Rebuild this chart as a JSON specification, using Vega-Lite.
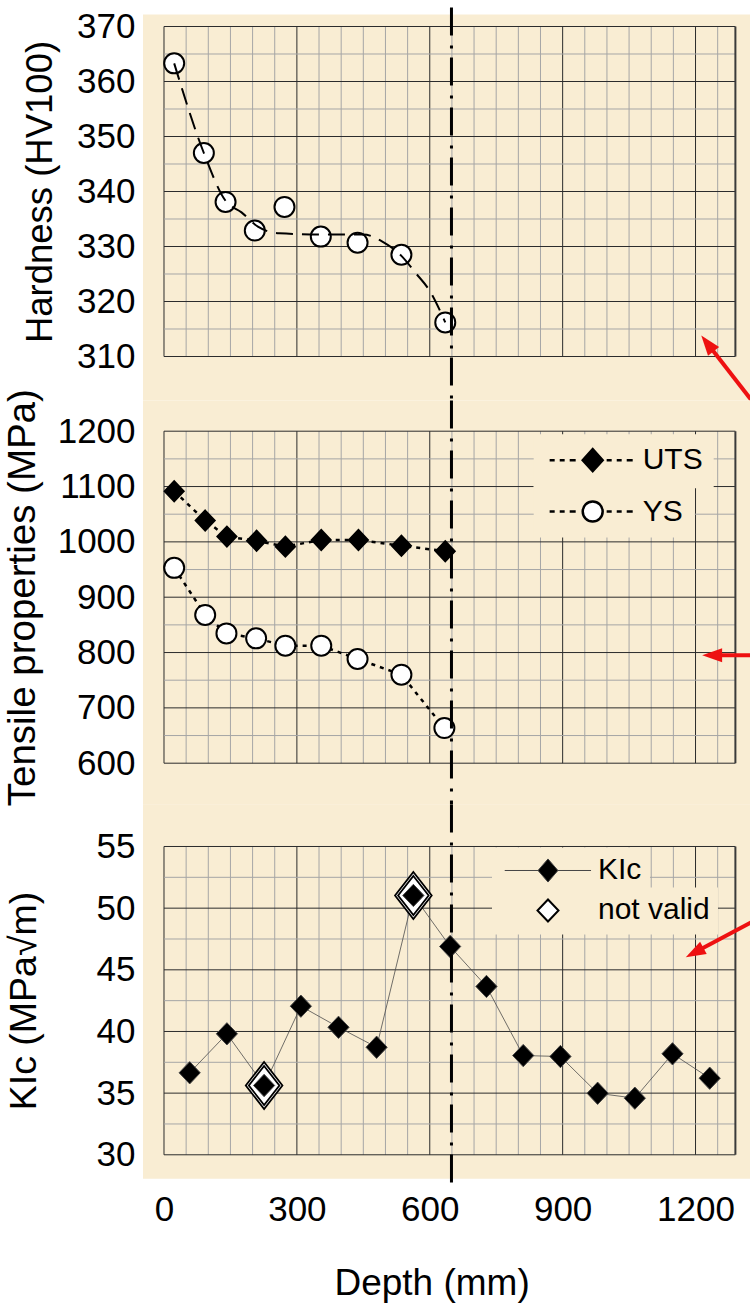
{
  "$schema": "https://vega.github.io/schema/vega-lite/v6.json",
  "background": "white",
  "autosize": {"type": "pad"},
  "padding": {"left": 3, "top": 5.5, "right": 0, "bottom": 0},
  "bounds": "flush",
  "spacing": 74.7,
  "resolve": {"scale": {"fill": "independent", "shape": "independent", "stroke": "independent"}, "legend": {"fill": "independent", "shape": "independent", "stroke": "independent"}},
  "config": {
    "font": "Liberation Sans",
    "view": {"stroke": null},
    "axis": {
      "labelFont": "Liberation Sans", "titleFont": "Liberation Sans",
      "labelColor": "black", "titleColor": "black", "titleFontWeight": "normal",
      "labelFontSize": 35, "titleFontSize": 36,
      "domainColor": "black", "domainWidth": 1.5, "tickColor": "black", "tickWidth": 1,
      "grid": false, "labelFlush": false, "labelOverlap": false, "zindex": 1
    },
    "legend": {"labelFont": "Liberation Sans", "labelFontSize": 30, "labelColor": "black"}
  },
  "datasets": {
    "one": [{}],
    "xg": [{"v":0},{"v":50},{"v":100},{"v":150},{"v":200},{"v":250},{"v":300},{"v":350},{"v":400},{"v":450},{"v":500},{"v":550},{"v":600},{"v":650},{"v":700},{"v":750},{"v":800},{"v":850},{"v":900},{"v":950},{"v":1000},{"v":1050},{"v":1100},{"v":1150},{"v":1200},{"v":1250}],
    "g1": [{"v":310},{"v":315},{"v":320},{"v":325},{"v":330},{"v":335},{"v":340},{"v":345},{"v":350},{"v":355},{"v":360},{"v":365},{"v":370}],
    "g2": [{"v":600},{"v":650},{"v":700},{"v":750},{"v":800},{"v":850},{"v":900},{"v":950},{"v":1000},{"v":1050},{"v":1100},{"v":1150},{"v":1200}],
    "g3": [{"v":30},{"v":32.5},{"v":35},{"v":37.5},{"v":40},{"v":42.5},{"v":45},{"v":47.5},{"v":50},{"v":52.5},{"v":55}],
    "hv": [
      {"depth":23,"hv":363.3},{"depth":90,"hv":347.0},{"depth":139,"hv":338.1},{"depth":205,"hv":332.9},
      {"depth":272,"hv":337.2},{"depth":354,"hv":331.8},{"depth":437,"hv":330.7},{"depth":536,"hv":328.5},{"depth":635,"hv":316.2}
    ],
    "trend": [
      {"depth":23,"hv":363.3},{"depth":90,"hv":347.0},{"depth":139,"hv":338.3},{"depth":175,"hv":336.2},
      {"depth":212,"hv":333.6},{"depth":260,"hv":332.4},{"depth":350,"hv":332.2},{"depth":450,"hv":332.2},
      {"depth":493,"hv":330.9},{"depth":536,"hv":328.3},{"depth":568,"hv":325.2},{"depth":601,"hv":321.8},{"depth":635,"hv":316.2}
    ],
    "ts": [
      {"depth":23,"value":1091.5,"series":"UTS"},{"depth":93,"value":1038.5,"series":"UTS"},{"depth":142,"value":1009.5,"series":"UTS"},
      {"depth":209,"value":1002,"series":"UTS"},{"depth":274,"value":991.4,"series":"UTS"},{"depth":355,"value":1003.5,"series":"UTS"},
      {"depth":439,"value":1003.5,"series":"UTS"},{"depth":536,"value":993,"series":"UTS"},{"depth":635,"value":983,"series":"UTS"},
      {"depth":23,"value":953,"series":"YS"},{"depth":93,"value":868,"series":"YS"},{"depth":141,"value":834.6,"series":"YS"},
      {"depth":208,"value":825.6,"series":"YS"},{"depth":274,"value":812.3,"series":"YS"},{"depth":355,"value":812.3,"series":"YS"},
      {"depth":437,"value":788.3,"series":"YS"},{"depth":536,"value":760,"series":"YS"},{"depth":633,"value":663.5,"series":"YS"}
    ],
    "kic": [
      {"depth":58,"kic":36.65,"note":"valid"},{"depth":142,"kic":39.81,"note":"valid"},{"depth":226,"kic":35.62,"note":"not valid"},
      {"depth":309,"kic":42.05,"note":"valid"},{"depth":394,"kic":40.34,"note":"valid"},{"depth":480,"kic":38.72,"note":"valid"},
      {"depth":563,"kic":51.03,"note":"not valid"},{"depth":646,"kic":46.89,"note":"valid"},{"depth":728,"kic":43.65,"note":"valid"},
      {"depth":811,"kic":38.05,"note":"valid"},{"depth":895,"kic":37.97,"note":"valid"},{"depth":979,"kic":34.99,"note":"valid"},
      {"depth":1063,"kic":34.59,"note":"valid"},{"depth":1148,"kic":38.19,"note":"valid"},{"depth":1232,"kic":36.21,"note":"valid"}
    ]
  },
  "vconcat": [
    {
      "width": 571.4, "height": 330,
      "layer": [
        {"data": {"name": "one"}, "mark": {"type": "rect", "clip": false, "color": "#F9EDD3"},
         "encoding": {
           "x": {"datum": -47.4, "type": "quantitative", "scale": {"domain": [0,1290], "nice": false, "zero": false}, "axis": null},
           "x2": {"datum": 1325},
           "y": {"datum": 372.2, "type": "quantitative", "scale": {"domain": [310,370], "nice": false, "zero": false}},
           "y2": {"datum": 302}}},
        {"data": {"name": "xg"}, "mark": {"type": "rule", "strokeWidth": 1},
         "encoding": {
           "x": {"field": "v", "type": "quantitative", "scale": {"domain": [0,1290], "nice": false, "zero": false}, "axis": null},
           "color": {"condition": {"test": "datum.v % 300 === 0", "value": "#2b2b2b"}, "value": "#a6a6a6"}}},
        {"data": {"name": "g1"}, "mark": {"type": "rule", "strokeWidth": 1},
         "encoding": {
           "y": {"field": "v", "type": "quantitative", "scale": {"domain": [310,370], "nice": false, "zero": false},
                 "axis": {"values": [310,320,330,340,350,360,370], "format": "d", "tickSize": 12, "labelPadding": 17,
                          "title": "Hardness (HV100)", "titleFontSize": 36.5, "titleAngle": 270, "titleBaseline": "alphabetic", "titleAlign": "center",
                          "titleX": -112.6, "titleY": 165}},
           "color": {"condition": {"test": "datum.v % 10 === 0", "value": "#2b2b2b"}, "value": "#a6a6a6"}}},
        {"data": {"name": "one"}, "mark": {"type": "rule", "clip": false, "color": "#3a3a3a", "strokeWidth": 2},
         "encoding": {"x": {"datum": 1290, "type": "quantitative", "axis": null}}},
        {"data": {"name": "hv"}, "mark": {"type": "point", "shape": "circle", "filled": true, "fill": "white", "stroke": "black", "strokeWidth": 2, "size": 400, "opacity": 1},
         "encoding": {
           "x": {"field": "depth", "type": "quantitative", "axis": null},
           "y": {"field": "hv", "type": "quantitative"}}},
        {"data": {"name": "trend"}, "mark": {"type": "line", "color": "black", "strokeWidth": 2, "strokeDash": [17, 9], "interpolate": "monotone"},
         "encoding": {
           "x": {"field": "depth", "type": "quantitative", "axis": null},
           "y": {"field": "hv", "type": "quantitative"}}},
        {"data": {"name": "one"}, "mark": {"type": "rule", "clip": false, "color": "black", "strokeWidth": 3, "strokeDash": [28, 10, 3, 9]},
         "encoding": {
           "x": {"datum": 649, "type": "quantitative", "axis": null},
           "y": {"datum": 373.45, "type": "quantitative"}, "y2": {"datum": 302}}},
        {"data": {"name": "one"}, "mark": {"type": "rule", "clip": false, "color": "#EE1111", "strokeWidth": 4},
         "encoding": {
           "x": {"datum": 1325, "type": "quantitative", "axis": null}, "x2": {"datum": 1229.5},
           "y": {"datum": 302.2, "type": "quantitative"}, "y2": {"datum": 312.1}}},
        {"data": {"name": "one"}, "mark": {"type": "point", "clip": false, "shape": "M0,0L-0.6,1.7L0.6,1.7Z", "filled": true, "color": "#EE1111", "size": 552, "angle": 322, "opacity": 1},
         "encoding": {
           "x": {"datum": 1213, "type": "quantitative", "axis": null},
           "y": {"datum": 313.8, "type": "quantitative"}}}
      ]
    },
    {
      "bounds": "flush",
      "spacing": 83.3,
      "resolve": {"scale": {"fill": "independent", "shape": "independent", "stroke": "independent"}, "legend": {"fill": "independent", "shape": "independent", "stroke": "independent"}},
      "vconcat": [
        {
          "width": 571.4, "height": 332,
          "layer": [
            {"data": {"name": "one"}, "mark": {"type": "rect", "clip": false, "color": "#F9EDD3"},
             "encoding": {
               "x": {"datum": -47.4, "type": "quantitative", "scale": {"domain": [0,1290], "nice": false, "zero": false}, "axis": null},
               "x2": {"datum": 1325},
               "y": {"datum": 1255.5, "type": "quantitative", "scale": {"domain": [600,1200], "nice": false, "zero": false}},
               "y2": {"datum": 524.7}}},
            {"data": {"name": "xg"}, "mark": {"type": "rule", "strokeWidth": 1},
             "encoding": {
               "x": {"field": "v", "type": "quantitative", "scale": {"domain": [0,1290], "nice": false, "zero": false}, "axis": null},
               "color": {"condition": {"test": "datum.v % 300 === 0", "value": "#2b2b2b"}, "value": "#a6a6a6"}}},
            {"data": {"name": "g2"}, "mark": {"type": "rule", "strokeWidth": 1},
             "encoding": {
               "y": {"field": "v", "type": "quantitative", "scale": {"domain": [600,1200], "nice": false, "zero": false},
                     "axis": {"values": [600,700,800,900,1000,1100,1200], "format": "d", "tickSize": 12, "labelPadding": 17,
                              "title": "Tensile properties (MPa)", "titleFontSize": 38.5, "titleAngle": 270, "titleBaseline": "alphabetic", "titleAlign": "center",
                              "titleX": -129, "titleY": 166}},
               "color": {"condition": {"test": "datum.v % 100 === 0", "value": "#2b2b2b"}, "value": "#a6a6a6"}}},
            {"data": {"name": "one"}, "mark": {"type": "rule", "clip": false, "color": "#3a3a3a", "strokeWidth": 2},
             "encoding": {"x": {"datum": 1290, "type": "quantitative", "axis": null}}},
            {"data": {"name": "ts"}, "mark": {"type": "line", "color": "black", "strokeWidth": 2.5, "strokeDash": [4, 5]},
             "encoding": {
               "x": {"field": "depth", "type": "quantitative", "axis": null},
               "y": {"field": "value", "type": "quantitative"},
               "detail": {"field": "series"}}},
            {"data": {"name": "ts"}, "transform": [{"filter": "datum.series === 'UTS'"}],
             "mark": {"type": "point", "shape": "M0,-1L0.95,0L0,1L-0.95,0Z", "filled": true, "stroke": "black", "strokeWidth": 2, "size": 400, "opacity": 1},
             "encoding": {
               "x": {"field": "depth", "type": "quantitative", "axis": null},
               "y": {"field": "value", "type": "quantitative"},
               "fill": {"datum": "UTS", "type": "nominal", "scale": {"domain": ["UTS"], "range": ["black"]},
                        "legend": {"title": null, "orient": "none", "legendX": 369.7, "legendY": 3, "padding": 11,
                                   "fillColor": "#F9EDD3", "strokeColor": null,
                                   "symbolType": "M-4.1,0L-3.62,0M-3.14,0L-2.67,0M-2.19,0L-1.62,0M1.33,0L1.81,0M2.29,0L2.76,0M3.24,0L3.81,0M0,-1.05L0.95,0L0,1.05L-0.95,0Z",
                                   "symbolSize": 441, "symbolStrokeWidth": 2.5, "symbolStrokeColor": "black", "symbolOffset": 33, "labelOffset": 35,
                                   "labelFontSize": 30, "labelExpr": "datum.label + '    '"}}}},
            {"data": {"name": "ts"}, "transform": [{"filter": "datum.series === 'YS'"}],
             "mark": {"type": "point", "shape": "circle", "filled": true, "fill": "white", "strokeWidth": 2, "size": 400, "opacity": 1},
             "encoding": {
               "x": {"field": "depth", "type": "quantitative", "axis": null},
               "y": {"field": "value", "type": "quantitative"},
               "stroke": {"datum": "YS", "type": "nominal", "scale": {"domain": ["YS"], "range": ["black"]},
                        "legend": {"title": null, "orient": "none", "legendX": 369.7, "legendY": 54.3, "padding": 11,
                                   "fillColor": "#F9EDD3", "strokeColor": null,
                                   "symbolType": "M-4.1,0L-3.62,0M-3.14,0L-2.67,0M-2.19,0L-1.62,0M1.33,0L1.81,0M2.29,0L2.76,0M3.24,0L3.81,0M0.95,0A0.95,0.95 0 1 1 -0.95,0A0.95,0.95 0 1 1 0.95,0Z",
                                   "symbolSize": 441, "symbolStrokeWidth": 2.5, "symbolFillColor": "white", "symbolOffset": 33, "labelOffset": 35,
                                   "labelFontSize": 30, "labelExpr": "datum.label + '        '"}}}},
            {"data": {"name": "one"}, "mark": {"type": "rule", "clip": false, "color": "black", "strokeWidth": 3, "strokeDash": [28, 10, 3, 9]},
             "encoding": {
               "x": {"datum": 649, "type": "quantitative", "axis": null},
               "y": {"datum": 1255.5, "type": "quantitative"}, "y2": {"datum": 524.7}}},
            {"data": {"name": "one"}, "mark": {"type": "rule", "clip": false, "color": "#EE1111", "strokeWidth": 4},
             "encoding": {
               "x": {"datum": 1325, "type": "quantitative", "axis": null}, "x2": {"datum": 1242},
               "y": {"datum": 795, "type": "quantitative"}, "y2": {"datum": 795}}},
            {"data": {"name": "one"}, "mark": {"type": "point", "clip": false, "shape": "M0,0L-0.6,1.7L0.6,1.7Z", "filled": true, "color": "#EE1111", "size": 552, "angle": 270, "opacity": 1},
             "encoding": {
               "x": {"datum": 1215, "type": "quantitative", "axis": null},
               "y": {"datum": 795, "type": "quantitative"}}}
          ]
        },
        {
          "width": 571.4, "height": 308.3,
          "layer": [
            {"data": {"name": "one"}, "mark": {"type": "rect", "clip": false, "color": "#F9EDD3"},
             "encoding": {
               "x": {"datum": -47.4, "type": "quantitative", "scale": {"domain": [0,1290], "nice": false, "zero": false}},
               "x2": {"datum": 1325},
               "y": {"datum": 58.4, "type": "quantitative", "scale": {"domain": [30,55], "nice": false, "zero": false}},
               "y2": {"datum": 28.05}}},
            {"data": {"name": "xg"}, "mark": {"type": "rule", "strokeWidth": 1},
             "encoding": {
               "x": {"field": "v", "type": "quantitative", "scale": {"domain": [0,1290], "nice": false, "zero": false},
                     "axis": {"values": [0,300,600,900,1200], "format": "d", "tickSize": 12.4, "labelBaseline": "alphabetic", "labelPadding": 53.3,
                              "title": "Depth (mm)", "titleFontSize": 37, "titleBaseline": "alphabetic", "titleAlign": "center",
                              "titleX": 267.6, "titleY": 140}},
               "color": {"condition": {"test": "datum.v % 300 === 0", "value": "#2b2b2b"}, "value": "#a6a6a6"}}},
            {"data": {"name": "g3"}, "mark": {"type": "rule", "strokeWidth": 1},
             "encoding": {
               "y": {"field": "v", "type": "quantitative", "scale": {"domain": [30,55], "nice": false, "zero": false},
                     "axis": {"values": [30,35,40,45,50,55], "format": "d", "tickSize": 12, "labelPadding": 17,
                              "title": "KIc (MPa√m)", "titleFontSize": 37.5, "titleAngle": 270, "titleBaseline": "alphabetic", "titleAlign": "center",
                              "titleX": -128.4, "titleY": 154}},
               "color": {"condition": {"test": "datum.v % 5 === 0", "value": "#2b2b2b"}, "value": "#a6a6a6"}}},
            {"data": {"name": "one"}, "mark": {"type": "rule", "clip": false, "color": "#3a3a3a", "strokeWidth": 2},
             "encoding": {"x": {"datum": 1290, "type": "quantitative"}}},
            {"data": {"name": "kic"}, "mark": {"type": "line", "color": "#4d4d4d", "strokeWidth": 0.8},
             "encoding": {
               "x": {"field": "depth", "type": "quantitative"},
               "y": {"field": "kic", "type": "quantitative"}}},
            {"data": {"name": "kic"}, "transform": [{"filter": "datum.note === 'not valid'"}],
             "mark": {"type": "point", "shape": "M0,-1L0.78,0L0,1L-0.78,0ZM0,-0.83L0.65,0L0,0.83L-0.65,0Z", "filled": true, "fill": "white", "strokeWidth": 1.8, "size": 2209, "opacity": 1},
             "encoding": {
               "x": {"field": "depth", "type": "quantitative"},
               "y": {"field": "kic", "type": "quantitative"},
               "stroke": {"datum": "not valid", "type": "nominal", "scale": {"domain": ["not valid"], "range": ["black"]},
                        "legend": {"title": null, "orient": "none", "legendX": 328, "legendY": 41, "padding": 8,
                                   "fillColor": "#F9EDD3", "strokeColor": null,
                                   "symbolType": "M0,-1.05L1,0L0,1.05L-1,0Z",
                                   "symbolSize": 441, "symbolStrokeWidth": 2, "symbolFillColor": "white", "symbolOffset": 33, "labelOffset": 35,
                                   "labelFontSize": 30, "labelExpr": "datum.label + '  '"}}}},
            {"data": {"name": "kic"},
             "mark": {"type": "point", "shape": "M0,-1L0.95,0L0,1L-0.95,0Z", "filled": true, "stroke": "#444444", "strokeWidth": 1, "size": 497, "opacity": 1},
             "encoding": {
               "x": {"field": "depth", "type": "quantitative"},
               "y": {"field": "kic", "type": "quantitative"},
               "fill": {"datum": "KIc", "type": "nominal", "scale": {"domain": ["KIc"], "range": ["black"]},
                        "legend": {"title": null, "orient": "none", "legendX": 328, "legendY": 1, "padding": 8,
                                   "fillColor": "#F9EDD3", "strokeColor": null,
                                   "symbolType": "M-4.12,0L-0.95,0M0.95,0L4.1,0M0,-1.1L0.95,0L0,1.1L-0.95,0Z",
                                   "symbolSize": 441, "symbolStrokeWidth": 1, "symbolStrokeColor": "#444444", "symbolOffset": 33, "labelOffset": 35,
                                   "labelFontSize": 30, "labelExpr": "datum.label + '          '"}}}},
            {"data": {"name": "one"}, "mark": {"type": "rule", "clip": false, "color": "black", "strokeWidth": 3, "strokeDash": [28, 10, 3, 9]},
             "encoding": {
               "x": {"datum": 649, "type": "quantitative"},
               "y": {"datum": 58.4, "type": "quantitative"}, "y2": {"datum": 27.6}}},
            {"data": {"name": "one"}, "mark": {"type": "rule", "clip": false, "color": "#EE1111", "strokeWidth": 4},
             "encoding": {
               "x": {"datum": 1325, "type": "quantitative"}, "x2": {"datum": 1202},
               "y": {"datum": 48.83, "type": "quantitative"}, "y2": {"datum": 46.48}}},
            {"data": {"name": "one"}, "mark": {"type": "point", "clip": false, "shape": "M0,0L-0.6,1.7L0.6,1.7Z", "filled": true, "color": "#EE1111", "size": 552, "angle": 242, "opacity": 1},
             "encoding": {
               "x": {"datum": 1178, "type": "quantitative"},
               "y": {"datum": 46.02, "type": "quantitative"}}}
          ]
        }
      ]
    }
  ]
}
